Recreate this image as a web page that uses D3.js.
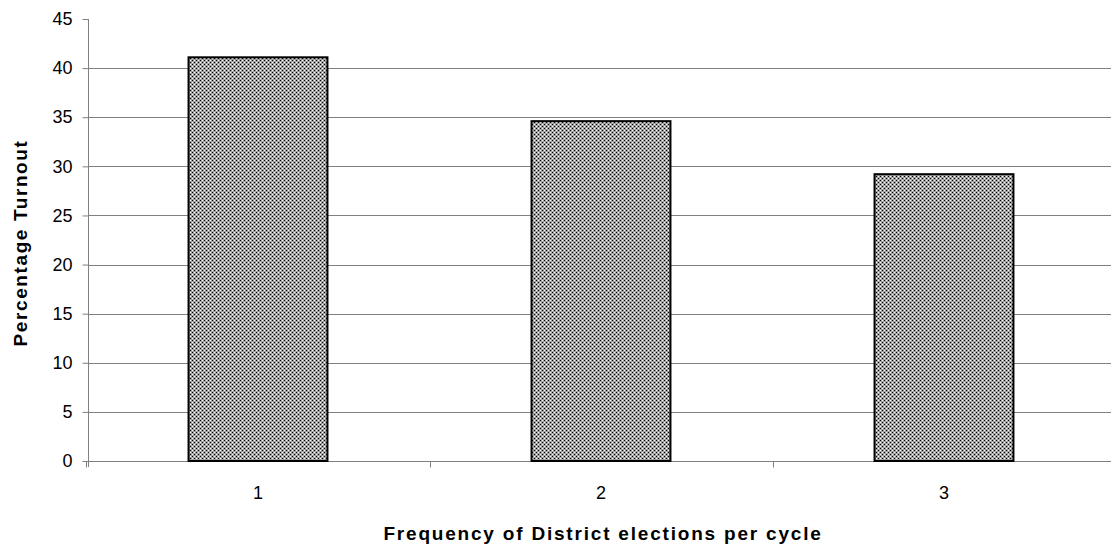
<!DOCTYPE html>
<html>
<head>
<meta charset="utf-8">
<script src="https://cdn.jsdelivr.net/npm/d3@7"></script>
<style>
  body { margin: 0; background: #fff; }
  svg { display: block; font-family: 'Liberation Sans', Arial, sans-serif; }
</style>
</head>
<body>
<div id="chart"></div>
<script>
const categories = ['1', '2', '3'];
const turnout = [41.1, 34.6, 29.2];
const yTicks = [0, 5, 10, 15, 20, 25, 30, 35, 40, 45];

const width = 1111, height = 550;
const plotLeft = 88, plotTop = 19, plotBottom = 461;

const svg = d3.select('#chart').append('svg')
    .attr('width', width)
    .attr('height', height);

// checker fill: gray grid with black / white cells
const pat = svg.append('defs').append('pattern')
    .attr('id', 'dots')
    .attr('width', 4).attr('height', 4)
    .attr('patternUnits', 'userSpaceOnUse')
    .attr('shape-rendering', 'crispEdges');
pat.append('rect').attr('width', 4).attr('height', 4).attr('fill', '#a0a0a0');
[[0, 0, '#000'], [2, 2, '#000'], [2, 0, '#fff'], [0, 2, '#fff']].forEach(c => {
    pat.append('rect').attr('x', c[0]).attr('y', c[1])
        .attr('width', 1).attr('height', 1).attr('fill', c[2]);
});

const x = d3.scaleBand()
    .domain(categories)
    .range([plotLeft - 1.5, plotLeft - 1.5 + 343 * 3])
    .paddingInner(0.595)
    .paddingOuter(0.2975);

const y = d3.scaleLinear()
    .domain([0, 45])
    .range([plotBottom, plotTop]);

// grid lines
svg.append('g')
    .selectAll('line')
    .data(yTicks.filter(d => d > 0 && d < 45))
    .enter().append('line')
    .attr('x1', plotLeft).attr('x2', width)
    .attr('y1', d => Math.round(y(d)) + 0.5)
    .attr('y2', d => Math.round(y(d)) + 0.5)
    .attr('stroke', '#808080')
    .attr('stroke-width', 1);

// y axis
const yAxis = svg.append('g')
    .attr('transform', `translate(${plotLeft + 0.5},0)`)
    .call(d3.axisLeft(y).tickValues(yTicks).tickSize(6).tickPadding(10));
yAxis.select('.domain').attr('stroke', '#808080').attr('d', `M0,${plotTop}V${plotBottom + 6}`);
yAxis.selectAll('.tick line').attr('stroke', '#808080');
yAxis.selectAll('.tick text')
    .attr('font-size', 18)
    .attr('fill', '#000')
    .attr('font-family', "'Liberation Sans', Arial, sans-serif");

// x axis
const xAxis = svg.append('g')
    .attr('transform', `translate(0,${plotBottom + 0.5})`);
xAxis.append('line')
    .attr('x1', plotLeft).attr('x2', width)
    .attr('stroke', '#808080');
xAxis.selectAll('.sep')
    .data(categories)
    .enter().append('line')
    .attr('class', 'sep')
    .attr('x1', d => Math.round(x(d) - x.step() * 0.2975) + 0.5)
    .attr('x2', d => Math.round(x(d) - x.step() * 0.2975) + 0.5)
    .attr('y1', 0).attr('y2', 6)
    .attr('stroke', '#808080');
xAxis.selectAll('.lab')
    .data(categories)
    .enter().append('text')
    .attr('x', d => x(d) + x.bandwidth() / 2)
    .attr('y', 37)
    .attr('text-anchor', 'middle')
    .attr('font-size', 18)
    .text(d => d);

// bars
svg.append('g')
    .selectAll('rect')
    .data(categories)
    .enter().append('rect')
    .attr('x', d => x(d))
    .attr('y', (d, i) => y(turnout[i]))
    .attr('width', x.bandwidth())
    .attr('height', (d, i) => plotBottom - y(turnout[i]))
    .attr('fill', 'url(#dots)')
    .attr('stroke', '#000')
    .attr('stroke-width', 2);

// axis titles
svg.append('text')
    .attr('x', 603)
    .attr('y', 540)
    .attr('text-anchor', 'middle')
    .attr('font-size', 19)
    .attr('font-weight', 'bold')
    .attr('letter-spacing', 1.8)
    .text('Frequency of District elections per cycle');

svg.append('text')
    .attr('transform', 'translate(27,243) rotate(-90)')
    .attr('text-anchor', 'middle')
    .attr('font-size', 19)
    .attr('font-weight', 'bold')
    .attr('letter-spacing', 1.6)
    .text('Percentage Turnout');
</script>
</body>
</html>
